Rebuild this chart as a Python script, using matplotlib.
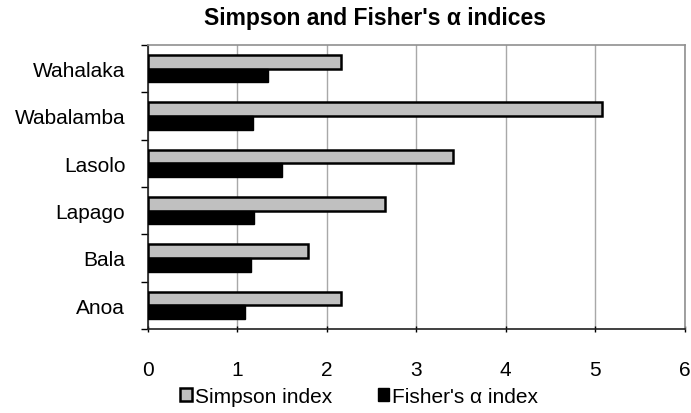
import matplotlib
matplotlib.use("Agg")
import matplotlib.pyplot as plt
import numpy as np

plt.rcParams['font.family'] = ['Liberation Sans', 'DejaVu Sans']

# data (bottom to top)
sites = ["Anoa", "Bala", "Lapago", "Lasolo", "Wabalamba", "Wahalaka"]
simpson = [2.16, 1.79, 2.65, 3.41, 5.08, 2.16]
fisher = [1.09, 1.16, 1.19, 1.50, 1.18, 1.35]

fig = plt.figure(figsize=(6.91, 4.14), dpi=100)
ax = fig.add_axes([0.2135, 0.203, 0.7775, 0.686])

y = np.arange(len(sites))
h = 0.29
ax.barh(y + h / 2, simpson, height=h, color="#c0c0c0", edgecolor="black",
        linewidth=1.8, label="Simpson index", zorder=3)
ax.barh(y - h / 2, fisher, height=h, color="black", edgecolor="black",
        linewidth=1.0, label="Fisher's α index", zorder=3)

ax.set_xlim(0, 6)
ax.set_ylim(-0.5, len(sites) - 0.5)
ax.set_xticks(range(7))
ax.set_yticks(y)
ax.set_yticklabels(sites)
ax.set_yticks(np.arange(-0.5, len(sites)), minor=True)
ax.tick_params(axis="y", which="major", length=0, pad=16, labelsize=15)
ax.tick_params(axis="y", which="minor", length=5, width=1, direction="out")
ax.tick_params(axis="x", length=5, width=1, direction="inout", pad=20, labelsize=15)

ax.grid(axis="x", color="#a8a8a8", linewidth=1.0, zorder=0)
for s in ["top", "right"]:
    ax.spines[s].set_color("#909090")
    ax.spines[s].set_linewidth(1.2)
for s in ["left", "bottom"]:
    ax.spines[s].set_color("#202020")
    ax.spines[s].set_linewidth(1.2)

fig.text(0.542, 0.955, "Simpson and Fisher's α indices", ha="center", va="center",
         fontsize=16.5, fontweight="bold")

fig.legend(loc="center", bbox_to_anchor=(0.52, 0.04), ncol=2, frameon=False,
           fontsize=15, handlelength=0.55, handleheight=0.55, handletextpad=0.15,
           columnspacing=2.2, borderaxespad=0, borderpad=0)

fig.savefig("out.png", dpi=100)
